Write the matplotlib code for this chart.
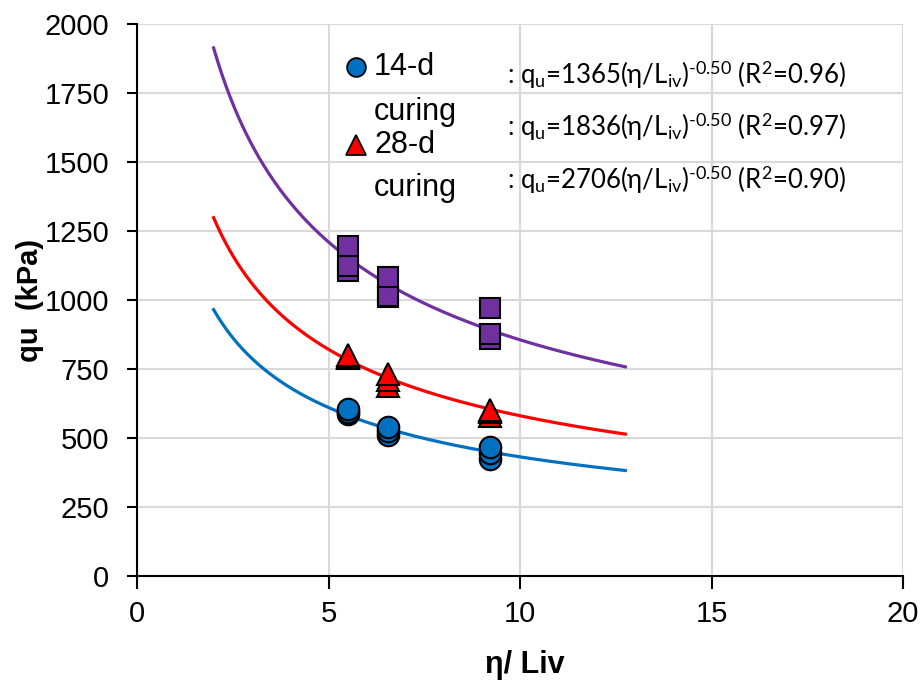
import numpy as np
import matplotlib
matplotlib.use("Agg")
import matplotlib.pyplot as plt

plt.rcParams['font.family'] = ['Liberation Sans', 'DejaVu Sans']
plt.rcParams['mathtext.fontset'] = 'custom'
plt.rcParams['mathtext.rm'] = 'Lato'
plt.rcParams['mathtext.it'] = 'Lato:italic'
plt.rcParams['mathtext.fallback'] = 'stixsans'

# ---- data ----
x_vals = [5.5, 5.5, 5.5, 6.55, 6.55, 6.55, 9.22, 9.22, 9.22]
qu_14d = [587, 595, 604, 511, 525, 539, 423, 445, 466]
qu_28d = [790, 795, 800, 689, 711, 733, 581, 593, 603]
qu_56d = [1105, 1125, 1195, 1010, 1015, 1082, 857, 876, 972]

coef_a = [1365, 1836, 2706]
coef_b = [-0.50, -0.50, -0.50]
r2 = [0.96, 0.97, 0.90]
fit_range = [2.0, 12.75]

colors = ['#0070C0', '#FF0000', '#7030A0']
markers = ['o', '^', 's']
msizes = [15.5, 16.5, 14]
legend_labels = [('14-d', 'curing'), ('28-d', 'curing')]

x_ticks = [0, 5, 10, 15, 20]
y_ticks = [0, 250, 500, 750, 1000, 1250, 1500, 1750, 2000]

# ---- figure ----
fig = plt.figure(figsize=(9.21, 6.81), dpi=100)
ax = fig.add_axes([137/921, 1-576/681, (903-137)/921, (576-24)/681])

ax.set_xlim(0, 20)
ax.set_ylim(0, 2000)
ax.set_xticks(x_ticks)
ax.set_yticks(y_ticks)
ax.grid(True, color='#D9D9D9', linewidth=1.5, zorder=0)
ax.set_axisbelow(True)
for s in ['top', 'right']:
    ax.spines[s].set_visible(False)
for s in ['left', 'bottom']:
    ax.spines[s].set_linewidth(1.5)
    ax.spines[s].set_zorder(1)
ax.tick_params(axis='y', length=7, width=1.5, labelsize=21, pad=13)
ax.tick_params(axis='x', length=9, width=1.5, labelsize=21, pad=8)

xf = np.linspace(fit_range[0], fit_range[1], 300)
for a, b, c in zip(coef_a, coef_b, colors):
    ax.plot(xf, a * xf ** b, color=c, linewidth=2.3, zorder=2)

for ys, c, m, ms in zip([qu_14d, qu_28d, qu_56d], colors, markers, msizes):
    for xv, yv in zip(x_vals, ys):
        ax.plot([xv], [yv], linestyle='none', marker=m, markersize=ms,
                markerfacecolor=c, markeredgecolor='black', markeredgewidth=1.5,
                zorder=3)

ax.set_xlabel('η/ Liv', fontsize=22, fontweight='bold')
ax.set_ylabel('qu  (kPa)', fontsize=21, fontweight='bold')
ax.xaxis.set_label_coords((525 - 137) / 766, (576 - 650) / 552)
ax.yaxis.set_label_coords((44 - 137) / 766, 0.5)

# legend (manual, Excel style)
def ax_xy(px, py):
    return ((px - 137) / 766, (576 - py) / 552)

leg_rows = [(67, 112), (145, 188)]
for (l1, l2), (r1, r2y), c, m, ms in zip(legend_labels, leg_rows, colors, markers, [13.5, 14]):
    mx, my = ax_xy(356, r1)
    ax.plot([mx], [my], transform=ax.transAxes, marker=m, markersize=ms,
            markerfacecolor=c, markeredgecolor='black', markeredgewidth=1.3,
            linestyle='none', clip_on=False, zorder=4)
    tx, ty = ax_xy(374, r1)
    ax.text(tx, ty, l1, transform=ax.transAxes, fontsize=22, va='center', ha='left')
    tx, ty = ax_xy(374, r2y)
    ax.text(tx, ty, l2, transform=ax.transAxes, fontsize=22, va='center', ha='left')

eq_rows = [75, 127, 180]
for a, b, r, py in zip(coef_a, coef_b, r2, eq_rows):
    s = (r': q$_\mathregular{u}$=' + f'{a}' + r'(η/L$_\mathregular{iv}$)$^\mathregular{' +
         f'{b:.2f}'.replace('-', '‐') + r'}$ (R$^\mathregular{2}$=' + f'{r:.2f}' + ')')
    tx, ty = ax_xy(507, py)
    ax.text(tx, ty, s, transform=ax.transAxes, fontsize=18.5, va='center', ha='left',
            family=['Lato', 'DejaVu Sans'])

fig.savefig('out.png', dpi=100)
